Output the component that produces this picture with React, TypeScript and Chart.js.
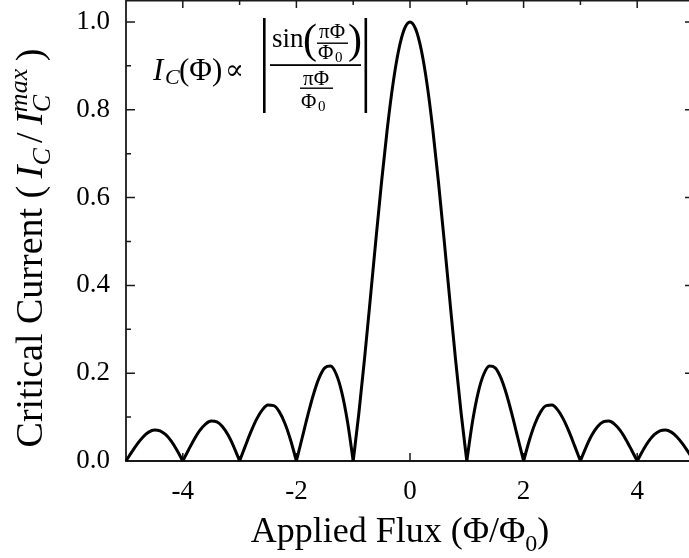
import React, { useEffect, useRef } from "react";
import { Chart, registerables } from "chart.js";

Chart.register(...registerables);

// Applied flux Φ/Φ0 (x values)
const flux = [
  -5.0, -4.9, -4.8, -4.7, -4.6, -4.5, -4.4, -4.3, -4.2, -4.1,
  -4.0, -3.9, -3.8, -3.7, -3.6, -3.5, -3.4, -3.3, -3.2, -3.1,
  -3.0, -2.9, -2.8, -2.7, -2.6, -2.5, -2.4, -2.3, -2.2, -2.1,
  -2.0, -1.9, -1.8, -1.7, -1.6, -1.5, -1.4, -1.3, -1.2, -1.1,
  -1.0, -0.9, -0.8, -0.7, -0.6, -0.5, -0.4, -0.3, -0.2, -0.1,
  0.0,
  0.1, 0.2, 0.3, 0.4, 0.5, 0.6, 0.7, 0.8, 0.9, 1.0,
  1.1, 1.2, 1.3, 1.4, 1.5, 1.6, 1.7, 1.8, 1.9, 2.0,
  2.1, 2.2, 2.3, 2.4, 2.5, 2.6, 2.7, 2.8, 2.9, 3.0,
  3.1, 3.2, 3.3, 3.4, 3.5, 3.6, 3.7, 3.8, 3.9, 4.0,
  4.1, 4.2, 4.3, 4.4, 4.5, 4.6, 4.7, 4.8, 4.9, 5.0,
];

// Critical current I_C / I_C^max (y values)
const current = [
  0, 0.0201, 0.0390, 0.0548, 0.0658, 0.0707, 0.0688, 0.0599, 0.0446, 0.0240,
  0, 0.0252, 0.0492, 0.0696, 0.0841, 0.0909, 0.0890, 0.0780, 0.0585, 0.0317,
  0, 0.0339, 0.0668, 0.0954, 0.1164, 0.1273, 0.1261, 0.1120, 0.0850, 0.0468,
  0, 0.0518, 0.1039, 0.1515, 0.1892, 0.2122, 0.2162, 0.1981, 0.1559, 0.0894,
  0, 0.1093, 0.2339, 0.3679, 0.5046, 0.6366, 0.7568, 0.8584, 0.9355, 0.9836,
  1.0,
  0.9836, 0.9355, 0.8584, 0.7568, 0.6366, 0.5046, 0.3679, 0.2339, 0.1093, 0,
  0.0894, 0.1559, 0.1981, 0.2162, 0.2122, 0.1892, 0.1515, 0.1039, 0.0518, 0,
  0.0468, 0.0850, 0.1120, 0.1261, 0.1273, 0.1164, 0.0954, 0.0668, 0.0339, 0,
  0.0317, 0.0585, 0.0780, 0.0890, 0.0909, 0.0841, 0.0696, 0.0492, 0.0252, 0,
  0.0240, 0.0446, 0.0599, 0.0688, 0.0707, 0.0658, 0.0548, 0.0390, 0.0201, 0,
];

const xTickValues = [-4, -2, 0, 2, 4];
const yTickValues = [0, 0.2, 0.4, 0.6, 0.8, 1.0];
const xMinorTicks = [-4, -3, -2, -1, 0, 1, 2, 3, 4];
const yMinorTicks = [0.1, 0.2, 0.3, 0.4, 0.5, 0.6, 0.7, 0.8, 0.9, 1.0];

const SERIF = '"Liberation Serif", "Times New Roman", serif';
const MATH = '"DejaVu Serif", "Liberation Serif", serif';

// Split the pattern into lobes at its zeros, so each lobe is a smooth curve with sharp cusps between lobes.
function lobes() {
  const out: { x: number; y: number }[][] = [];
  let cur: { x: number; y: number }[] = [];
  flux.forEach((x, i) => {
    const p = { x, y: current[i] };
    cur.push(p);
    if (current[i] === 0 && cur.length > 1) {
      out.push(cur);
      cur = [p];
    }
  });
  if (cur.length > 1) out.push(cur);
  return out;
}

type Seg = { t: string; font: string; dy?: number; stackSub?: { t: string; font: string; dy: number } };

function drawSegs(ctx: CanvasRenderingContext2D, segs: Seg[], x: number, y: number, center: boolean) {
  ctx.textBaseline = "alphabetic";
  ctx.textAlign = "left";
  const widths = segs.map((s) => {
    ctx.font = s.font;
    let w = ctx.measureText(s.t).width;
    if (s.stackSub) {
      ctx.font = s.stackSub.font;
      w = Math.max(w, ctx.measureText(s.stackSub.t).width);
    }
    return w;
  });
  const total = widths.reduce((a, b) => a + b, 0);
  let cx = center ? x - total / 2 : x;
  segs.forEach((s, i) => {
    ctx.font = s.font;
    ctx.fillText(s.t, cx, y + (s.dy || 0));
    if (s.stackSub) {
      ctx.font = s.stackSub.font;
      ctx.fillText(s.stackSub.t, cx, y + s.stackSub.dy);
    }
    cx += widths[i];
  });
}

const framePlugin = {
  id: "framePlugin",
  beforeDatasetsDraw(chart: any) {
    const { ctx, chartArea: a, scales } = chart;
    const xs = scales.x;
    const ys = scales.y;
    ctx.save();
    ctx.strokeStyle = "#1a1a1a";
    ctx.lineWidth = 1.8;
    ctx.beginPath();
    ctx.moveTo(a.left, a.top + 0.6);
    ctx.lineTo(a.right, a.top + 0.6);
    ctx.moveTo(a.left, a.top);
    ctx.lineTo(a.left, a.bottom);
    ctx.lineTo(a.right, a.bottom);
    ctx.lineTo(a.right, a.top);
    ctx.stroke();

    ctx.lineWidth = 1.5;
    ctx.beginPath();
    xMinorTicks.forEach((v) => {
      const px = xs.getPixelForValue(v);
      const len = v % 2 === 0 ? 8 : 5;
      ctx.moveTo(px, a.bottom);
      ctx.lineTo(px, a.bottom - len);
      ctx.moveTo(px, a.top);
      ctx.lineTo(px, a.top + len);
    });
    yMinorTicks.forEach((v, i) => {
      const py = ys.getPixelForValue(v);
      const len = i % 2 === 1 ? 9 : 5;
      ctx.moveTo(a.left, py);
      ctx.lineTo(a.left + len, py);
      ctx.moveTo(a.right, py);
      ctx.lineTo(a.right - len, py);
    });
    ctx.stroke();
    ctx.restore();
  },
  afterDraw(chart: any) {
    const { ctx } = chart;
    ctx.save();
    ctx.fillStyle = "#000";

    // X axis title
    drawSegs(
      ctx,
      [
        { t: "Applied Flux (Φ/Φ", font: `36px ${SERIF}` },
        { t: "0", font: `24px ${SERIF}`, dy: 9 },
        { t: ")", font: `36px ${SERIF}` },
      ],
      400,
      542,
      true
    );

    // Y axis title (rotated)
    ctx.save();
    ctx.translate(42, 248);
    ctx.rotate(-Math.PI / 2);
    drawSegs(
      ctx,
      [
        { t: "Critical Current (\u2009", font: `38px ${SERIF}` },
        { t: "I", font: `italic 38px ${SERIF}` },
        { t: "C\u2009", font: `italic 26px ${SERIF}`, dy: 8 },
        { t: "/\u2009", font: `38px ${SERIF}` },
        { t: "I", font: `italic 38px ${SERIF}` },
        { t: "max", font: `italic 26px ${SERIF}`, dy: -15, stackSub: { t: "C", font: `italic 26px ${SERIF}`, dy: 8 } },
        { t: "\u2009)", font: `38px ${SERIF}` },
      ],
      0,
      0,
      true
    );
    ctx.restore();

    // Formula annotation
    ctx.textAlign = "left";
    ctx.textBaseline = "alphabetic";
    ctx.font = `italic 31px ${SERIF}`;
    ctx.fillText("I", 153, 80);
    ctx.font = `italic 22px ${SERIF}`;
    ctx.fillText("C", 165, 84);
    ctx.font = `31px ${SERIF}`;
    ctx.fillText("(Φ)", 179, 80);
    ctx.font = `28px ${MATH}`;
    ctx.fillText("∝", 225, 79);

    // absolute value bars
    ctx.fillRect(263, 18, 2.6, 95);
    ctx.fillRect(364.5, 18, 2.6, 95);

    // numerator: sin( πΦ / Φ0 )
    ctx.font = `27px ${SERIF}`;
    ctx.fillText("sin", 272, 47);
    ctx.font = `42px ${SERIF}`;
    ctx.fillText("(", 303, 53);
    ctx.fillText(")", 348, 53);
    ctx.textAlign = "center";
    ctx.font = `21px ${SERIF}`;
    ctx.fillText("πΦ", 332, 38);
    ctx.fillRect(317, 42.5, 31, 1.4);
    ctx.textAlign = "left";
    ctx.font = `21px ${SERIF}`;
    ctx.fillText("Φ", 318, 59);
    ctx.font = `15px ${SERIF}`;
    ctx.fillText("0", 335, 62);

    // main fraction line
    ctx.fillRect(270, 64.2, 91, 1.8);

    // denominator: πΦ / Φ0
    ctx.textAlign = "center";
    ctx.font = `21px ${SERIF}`;
    ctx.fillText("πΦ", 316, 85);
    ctx.fillRect(300, 87.5, 33, 1.4);
    ctx.textAlign = "left";
    ctx.fillText("Φ", 301, 108);
    ctx.font = `15px ${SERIF}`;
    ctx.fillText("0", 318, 111);

    ctx.restore();
  },
};

export default function App() {
  const ref = useRef<HTMLCanvasElement | null>(null);

  useEffect(() => {
    const canvas = ref.current;
    if (!canvas) return;
    const chart = new Chart(canvas, {
      type: "line",
      data: {
        datasets: lobes().map((pts) => ({
          data: pts,
          borderColor: "#000",
          borderWidth: 3,
          pointRadius: 0,
          cubicInterpolationMode: "monotone" as const,
          fill: false,
          clip: 6,
        })),
      },
      options: {
        responsive: false,
        animation: false,
        devicePixelRatio: 1,
        layout: { padding: { left: 0, right: 6, top: 0, bottom: 0 } },
        plugins: { legend: { display: false }, tooltip: { enabled: false } },
        scales: {
          x: {
            type: "linear",
            min: -5,
            max: 5,
            grid: { display: false },
            border: { display: false },
            ticks: {
              font: { family: SERIF, size: 27 },
              color: "#000",
              padding: 7,
              maxRotation: 0,
              callback: (v: any) => String(v),
            },
            afterBuildTicks: (s: any) => {
              s.ticks = xTickValues.map((v) => ({ value: v }));
            },
            afterFit: (s: any) => {
              s.height = 97;
              s.paddingLeft = 0;
              s.paddingRight = 0;
            },
          },
          y: {
            type: "linear",
            min: 0,
            max: 1.05,
            grid: { display: false },
            border: { display: false },
            ticks: {
              font: { family: SERIF, size: 27 },
              color: "#000",
              padding: 8,
              callback: (v: any) => Number(v).toFixed(1),
            },
            afterBuildTicks: (s: any) => {
              s.ticks = yTickValues.map((v) => ({ value: v }));
            },
            afterFit: (s: any) => {
              s.width = 126;
              s.paddingTop = 0;
              s.paddingBottom = 0;
            },
          },
        },
      },
      plugins: [framePlugin],
    });
    return () => chart.destroy();
  }, []);

  return (
    <div
      style={{
        position: "fixed",
        left: 0,
        top: 0,
        width: 689,
        height: 558,
        overflow: "hidden",
        background: "#fff",
      }}
    >
      <canvas ref={ref} width={700} height={558} style={{ width: 700, height: 558, display: "block" }} />
    </div>
  );
}
